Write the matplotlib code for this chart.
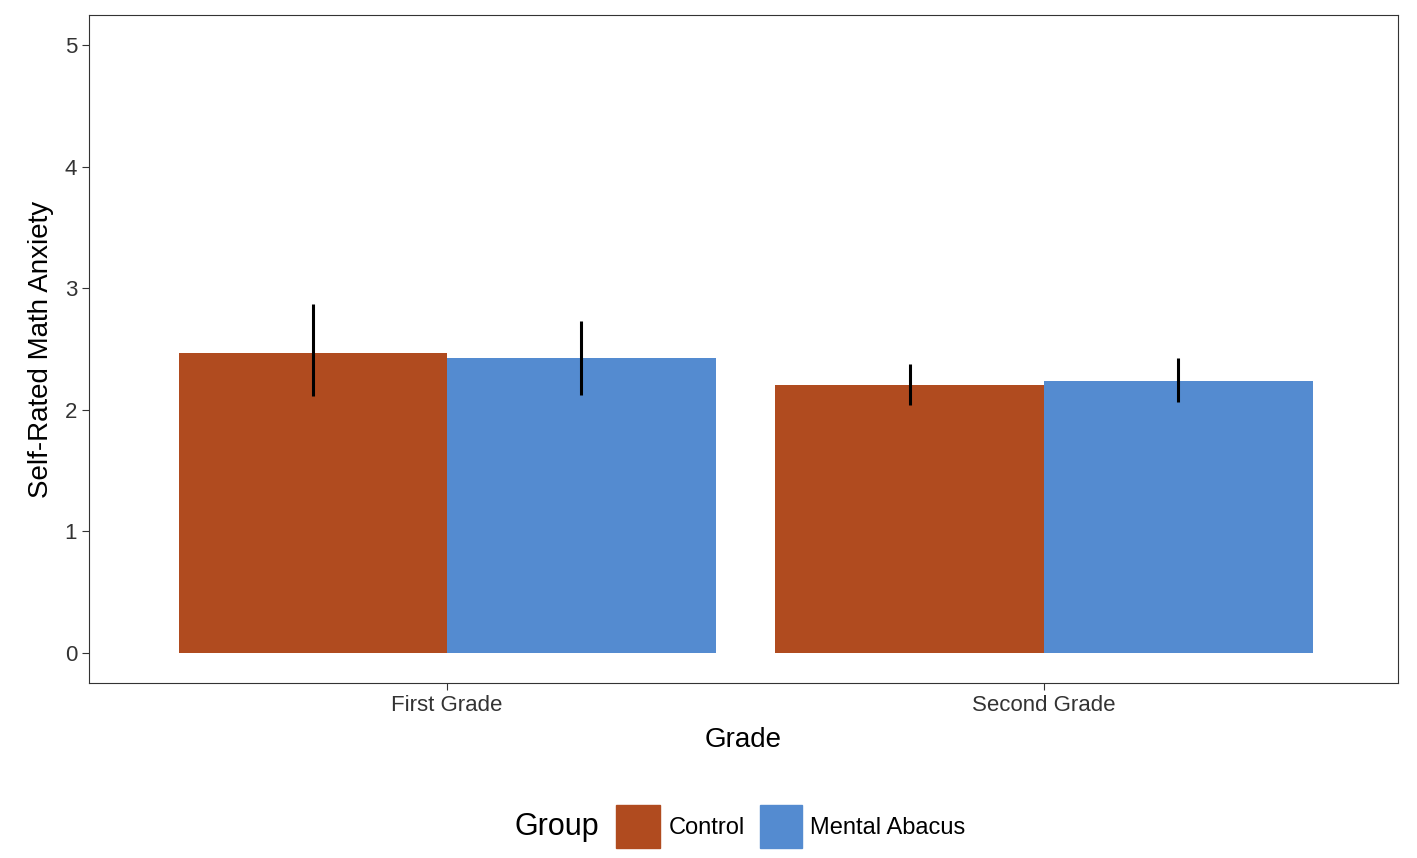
import matplotlib
matplotlib.use("Agg")
import matplotlib.pyplot as plt
from matplotlib.patches import Rectangle
import numpy as np

grades = ["First Grade", "Second Grade"]
groups = ["Control", "Mental Abacus"]
means = {"Control": [2.47, 2.20], "Mental Abacus": [2.43, 2.24]}
lower = {"Control": [2.11, 2.04], "Mental Abacus": [2.12, 2.06]}
upper = {"Control": [2.87, 2.38], "Mental Abacus": [2.73, 2.43]}
colors = {"Control": "#B04B1F", "Mental Abacus": "#548BD0"}

plt.rcParams['font.family'] = ['Liberation Sans', 'DejaVu Sans']
W, H = 1417, 858
fig = plt.figure(figsize=(W/100, H/100), dpi=100)
ax = fig.add_axes([89/W, 1-683/H, (1398-89)/W, (683-15)/H])
x = np.arange(1, len(grades)+1)
w = 0.45
for i, g in enumerate(groups):
    xs = x + (i - 0.5) * w
    ax.bar(xs, means[g], width=w, color=colors[g], label=g)
    ax.vlines(xs, lower[g], upper[g], color="black", lw=2.2)
ax.set_xlim(0.4, 2.593)
ax.set_ylim(-0.25, 5.25)
ax.set_xticks(x)
ax.set_xticklabels(grades, fontsize=16, color="#333333")
ax.set_yticks(range(6))
ax.tick_params(axis='y', labelsize=16, labelcolor="#333333")
ax.tick_params(length=5, color="#333333")
for s in ax.spines.values():
    s.set_color("#333333")
ax.set_xlabel("Grade", fontsize=20, labelpad=8)
ax.set_ylabel("Self-Rated Math Anxiety", fontsize=20, labelpad=8)

# legend, drawn manually in figure pixel coords
def fx(px): return px / W
def fy(py): return 1 - py / H
fig.text(fx(515), fy(827), "Group", fontsize=22, va="center", ha="left")
boxes = [(616, 660, 669), (760, 802, 810)]
for g, (x0, x1, tx) in zip(groups, boxes):
    fig.patches.append(Rectangle((fx(x0), fy(848)), fx(x1) - fx(x0), fy(805) - fy(848),
                                 transform=fig.transFigure, color=colors[g]))
    fig.text(fx(tx), fy(828), g, fontsize=17, va="center", ha="left")
fig.savefig("out.png", dpi=100)
